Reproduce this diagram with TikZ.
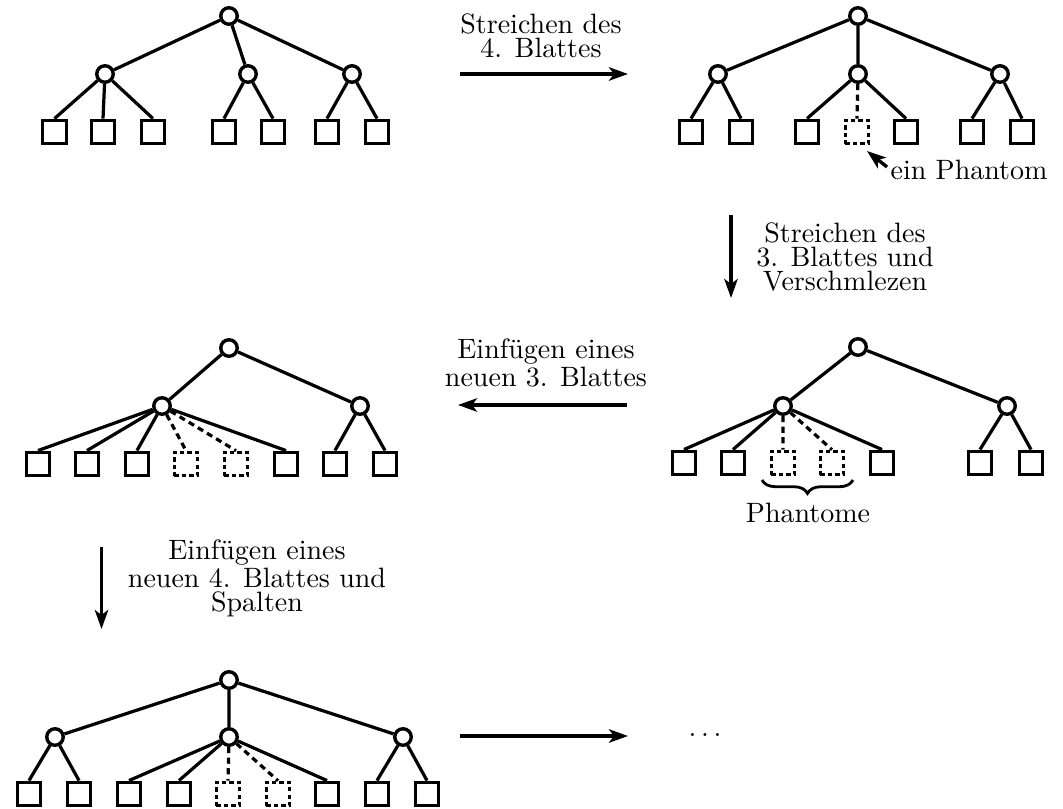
\documentclass[tikz,border=0pt]{standalone}
\usetikzlibrary{arrows.meta,decorations.pathreplacing}
\begin{document}
\begin{tikzpicture}[x=0.357pt,y=-0.357pt,
  inner/.style={circle,draw,line width=1.2pt,minimum size=5.9pt,inner sep=0pt},
  leaf/.style={rectangle,draw,line width=1.2pt,minimum size=8.4pt,inner sep=0pt},
  phantom/.style={leaf,line width=1.1pt,dash pattern=on 1.6pt off 1.1pt},
  edge/.style={line width=1.15pt},
  dedge/.style={line width=1.15pt,dash pattern=on 2.2pt off 1.6pt},
  trans/.style={line width=1.2pt,-{Stealth[length=6.8pt,width=4.8pt,inset=1.8pt]}},
  lbl/.style={align=center,inner sep=0pt,font=\fontsize{10}{8.6}\selectfont}]
\useasboundingbox (0,0) rectangle (1063,809);

% ---- tree 1: initial 2-3 tree ----
\node[inner] (t1r) at (229,16) {};
\node[inner] (t1a) at (105,74) {};
\node[inner] (t1b) at (248,74) {};
\node[inner] (t1c) at (352,74) {};
\foreach \n/\x in {1/54.5,2/103,3/153,4/224,5/273,6/327,7/377}
  \node[leaf] (t1l\n) at (\x,132) {};
\draw[edge] (t1r) -- (t1a) (t1r) -- (t1b) (t1r) -- (t1c);
\foreach \p/\l in {a/1,a/2,a/3,b/4,b/5,c/6,c/7}
  \draw[edge] (t1\p) -- (t1l\l.north);

% ---- tree 2: fourth leaf deleted ----
\node[inner] (t2r) at (858,16) {};
\node[inner] (t2a) at (718,74) {};
\node[inner] (t2b) at (858,74) {};
\node[inner] (t2c) at (1000,74) {};
\foreach \n/\x in {1/691,2/741,3/807,5/906,6/972,7/1022}
  \node[leaf] (t2l\n) at (\x,132) {};
\node[phantom] (t2l4) at (857,132) {};
\draw[edge] (t2r) -- (t2a) (t2r) -- (t2b) (t2r) -- (t2c);
\foreach \p/\l in {a/1,a/2,b/3,b/5,c/6,c/7}
  \draw[edge] (t2\p) -- (t2l\l.north);
\draw[dedge] (t2b) -- (t2l4.north);
\node[lbl,anchor=base west] (phlabel) at (890,179) {ein Phantom};
\coordinate (phs) at (887,167);
\coordinate (phe) at (867,151);
\draw[trans] (phs) -- (phe);

% ---- tree 3: third leaf deleted, nodes merged ----
\node[inner] (t3r) at (858,347) {};
\node[inner] (t3a) at (783,406) {};
\node[inner] (t3b) at (1007,406) {};
\foreach \n/\x in {1/684,2/733,5/882,6/980,7/1031}
  \node[leaf] (t3l\n) at (\x,463) {};
\node[phantom] (t3l3) at (783,463) {};
\node[phantom] (t3l4) at (832,463) {};
\draw[edge] (t3r) -- (t3a) (t3r) -- (t3b);
\foreach \p/\l in {a/1,a/2,a/5,b/6,b/7}
  \draw[edge] (t3\p) -- (t3l\l.north);
\draw[dedge] (t3a) -- (t3l3.north) (t3a) -- (t3l4.north);
\coordinate (brl) at (762,480);
\coordinate (brr) at (853,480);
\draw[line width=1pt,decorate,decoration={brace,mirror,amplitude=4.8pt}] (brl) -- (brr);
\node[lbl,anchor=base] (phantome) at (808,522) {Phantome};

% ---- tree 4: new third leaf inserted ----
\node[inner] (t4r) at (229,348) {};
\node[inner] (t4a) at (162,406) {};
\node[inner] (t4b) at (360,406) {};
\foreach \n/\x in {1/38,2/87,3/137,6/286,7/335,8/385}
  \node[leaf] (t4l\n) at (\x,464) {};
\node[phantom] (t4l4) at (186,464) {};
\node[phantom] (t4l5) at (236,464) {};
\draw[edge] (t4r) -- (t4a) (t4r) -- (t4b);
\foreach \p/\l in {a/1,a/2,a/3,a/6,b/7,b/8}
  \draw[edge] (t4\p) -- (t4l\l.north);
\draw[dedge] (t4a) -- (t4l4.north) (t4a) -- (t4l5.north);

% ---- tree 5: new fourth leaf inserted, node split ----
\node[inner] (t5r) at (229,680) {};
\node[inner] (t5a) at (55,737) {};
\node[inner] (t5b) at (229,737) {};
\node[inner] (t5c) at (403,737) {};
\foreach \n/\x in {1/29,2/79,3/129,4/179,7/327,8/377,9/427}
  \node[leaf] (t5l\n) at (\x,794) {};
\node[phantom] (t5l5) at (228,794) {};
\node[phantom] (t5l6) at (278,794) {};
\draw[edge] (t5r) -- (t5a) (t5r) -- (t5b) (t5r) -- (t5c);
\foreach \p/\l in {a/1,a/2,b/3,b/4,b/7,c/8,c/9}
  \draw[edge] (t5\p) -- (t5l\l.north);
\draw[dedge] (t5b) -- (t5l5.north) (t5b) -- (t5l6.north);

% ---- transitions ----
\coordinate (s1) at (460,74);   \coordinate (e1) at (628,74);
\draw[trans] (s1) -- (e1);
\node[lbl,anchor=north] (txt1) at (541,13) {Streichen des\\4. Blattes};

\coordinate (s2) at (731,215);  \coordinate (e2) at (731,298);
\draw[trans] (s2) -- (e2);
\node[lbl,anchor=north] (txt2) at (845,222) {Streichen des\\3. Blattes und\\Verschmlezen};

\coordinate (s3) at (627,405);  \coordinate (e3) at (458,405);
\draw[trans] (s3) -- (e3);
\node[lbl,anchor=north] (txt3) at (546,338) {Einfügen eines\\neuen 3. Blattes};

\coordinate (s4) at (101.5,547); \coordinate (e4) at (101.5,629);
\draw[trans] (s4) -- (e4);
\node[lbl,anchor=north] (txt4) at (257,539) {Einfügen eines\\neuen 4. Blattes und\\Spalten};

\coordinate (s5) at (460,736);  \coordinate (e5) at (628,736);
\draw[trans] (s5) -- (e5);
\node[lbl] (dots) at (705,735) {$\ldots$};
\end{tikzpicture}
\end{document}
